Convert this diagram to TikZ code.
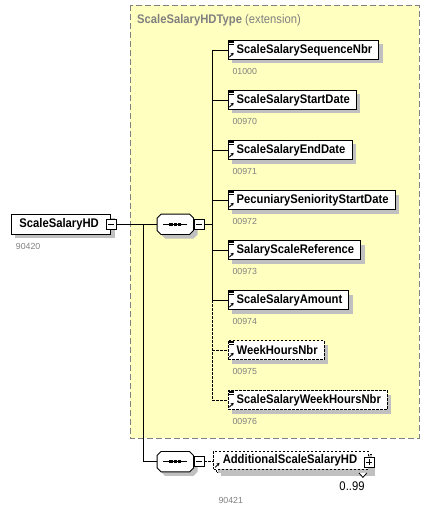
\documentclass[tikz,border=0pt]{standalone}
\usepackage{fontspec}
\setmainfont{Liberation Sans}
\newfontfamily\diafont{Liberation Sans}[FakeStretch=0.9]
\usetikzlibrary{shadows,arrows.meta}
\definecolor{ybg}{RGB}{255,255,192}
\definecolor{ybd}{RGB}{128,128,128}
\definecolor{numc}{RGB}{128,128,128}
\definecolor{shd}{RGB}{192,192,192}
\newcommand\lblfont{\diafont\fontsize{12.5}{14}\selectfont\bfseries}
\newcommand\numfont{\fontsize{8.8}{10}\selectfont}
\newcommand\octpath[3]{([xshift=#2+4pt,yshift=#3]#1.north west) -- ([xshift=#2-4pt,yshift=#3]#1.north east) -- ([xshift=#2,yshift=#3-4pt]#1.north east) -- ([xshift=#2,yshift=#3+4pt]#1.south east) -- ([xshift=#2-4pt,yshift=#3]#1.south east) -- ([xshift=#2+4pt,yshift=#3]#1.south west) -- ([xshift=#2,yshift=#3+4pt]#1.south west) -- ([xshift=#2,yshift=#3-4pt]#1.north west) -- cycle}
\newcommand\seqdraw[1]{%
  \fill[shd] \octpath{#1}{4pt}{-4pt};
  \draw[fill=white, line width=0.9pt] \octpath{#1}{0pt}{0pt};
  \draw[line width=0.9pt] ([xshift=-12pt]#1.center) -- ([xshift=12pt]#1.center);
  \fill ([xshift=-4.4pt]#1.center) +(-1.6,-1.5) rectangle +(1.6,1.5);
  \fill (#1.center) +(-1.6,-1.5) rectangle +(1.6,1.5);
  \fill ([xshift=4.4pt]#1.center) +(-1.6,-1.5) rectangle +(1.6,1.5);
}
\tikzset{
  sh/.style={general shadow={fill=shd,shadow xshift=4pt,shadow yshift=-4pt}},
  elem/.style={draw, fill=white, sh, minimum height=19pt, inner xsep=0pt, inner ysep=0pt, anchor=west, font=\lblfont, line width=0.9pt},
  optelem/.style={elem, dash pattern=on 2.5pt off 1.5pt},
  num/.style={anchor=west, text=numc, font=\numfont, inner sep=0pt},
  conn/.style={line width=0.9pt},
  optconn/.style={conn, dash pattern=on 2.5pt off 1.5pt},
  ybox/.style={fill=ybg, draw=ybd, line width=0.9pt, dash pattern=on 6pt off 3pt},
  seqbox/.style={rectangle, draw=none, minimum width=36pt, minimum height=20pt, inner sep=0pt},
  minusbox/.style={draw, fill=white, minimum size=10pt, inner sep=0pt, line width=0.8pt,
    path picture={\draw[line width=0.8pt] ([xshift=2pt]path picture bounding box.west) -- ([xshift=-2pt]path picture bounding box.east);}},
  plusbox/.style={minusbox, path picture={\draw[line width=0.8pt] ([xshift=2pt]path picture bounding box.west) -- ([xshift=-2pt]path picture bounding box.east);
      \draw[line width=0.8pt] ([yshift=2pt]path picture bounding box.south) -- ([yshift=-2pt]path picture bounding box.north);}},
  refarrow/.style={line width=0.9pt, -{Stealth[length=3pt,width=3.4pt]}},
}
\begin{document}
\begin{tikzpicture}[x=1pt,y=-1pt]
\useasboundingbox (0,0) rectangle (433,513);
% extension container
\draw[ybox] (130,5.3) rectangle (419,438);
\node[anchor=west, text=ybd, font=\diafont\fontsize{12.5}{14}\selectfont, inner sep=0pt] (ttl) at (137,20) {\textbf{ScaleSalaryHDType} (extension)};
% root element
\node[elem, minimum height=20pt] (r) at (10.7,224.3) {\hspace*{8.3pt}ScaleSalaryHD\hspace*{11.7pt}};
\node[minusbox] (rm) at (r.east) {};
\node[num] (rn) at (15.7,246.7) {90420};
% sequence 1
\node[seqbox] (seq1) at (175.3,224.3) {};
\seqdraw{seq1}
\node[minusbox, anchor=west] (sm1) at (seq1.east) {};
% sequence 2
\node[seqbox] (seq2) at (175.3,461.7) {};
\seqdraw{seq2}
\node[minusbox, anchor=west] (sm2) at (seq2.east) {};
\coordinate (j) at (143.3,224.3);
\draw[conn] (rm.east) -- (seq1.west);
\draw[conn] (j) |- (seq2.west);
\coordinate (bj) at (212.3,224.3);
\draw[conn] (sm1.east) -- (bj);
% child elements
\foreach \i/\cy/\nm/\nb/\st/\cs in {
  1/50/ScaleSalarySequenceNbr/01000/elem/conn,
  2/100/ScaleSalaryStartDate/00970/elem/conn,
  3/150/ScaleSalaryEndDate/00971/elem/conn,
  4/200/PecuniarySeniorityStartDate/00972/elem/conn,
  5/250/SalaryScaleReference/00973/elem/conn,
  6/300/ScaleSalaryAmount/00974/elem/conn,
  7/350/WeekHoursNbr/00975/optelem/optconn,
  8/400/ScaleSalaryWeekHoursNbr/00976/optelem/optconn}{
  \node[\st] (e\i) at (227.7,\cy) {\hspace*{8.5pt}\nm\hspace*{6.5pt}};
  \node[num] (n\i) at (232.3,\cy+21.7) {\nb};
  \coordinate (b\i) at (212.3,\cy);
  \draw[\cs] (b\i) -- (e\i.west);
  \draw[line width=0.8pt] ([shift={(1.2pt,-1.0pt)}]e\i.north west) -- ++(5,0)
     ([shift={(1.2pt,-2.6pt)}]e\i.north west) -- ++(5,0)
     ([shift={(1.2pt,-4.2pt)}]e\i.north west) -- ++(5,0);
  \draw[refarrow] ([shift={(1.6pt,2.8pt)}]e\i.south west) -- ++(4.4,-4.4);
}
\draw[conn] (b1) -- (b6);
\draw[optconn] (b6) -- (b8);
% additional element (repeated)
\node[optelem, anchor=north west, minimum height=18.3pt] (addb) at (216.3,453.7) {\phantom{\hspace*{9pt}AdditionalScaleSalaryHD\hspace*{11.3pt}}};
\node[optelem, general shadow={}, anchor=north west, minimum height=18.3pt] (add) at (213.3,450.7) {\hspace*{9pt}AdditionalScaleSalaryHD\hspace*{11.3pt}};
\draw[refarrow] ([shift={(1.8pt,2.6pt)}]add.south west) -- ++(4.4,-4.4);
\node[plusbox] (ap) at ([yshift=-1.8pt]add.east) {};
\draw[fill=white, line width=0.8pt] ([xshift=-13pt]addb.south east) -- ++(4,4.5) -- ++(4,-4.5);
\draw[optconn] (sm2.east) -- (sm2.east -| add.west);
\node[font=\diafont\fontsize{12.5}{14}\selectfont, inner sep=0pt] (card) at (352,485.7) {0..99};
\node[num] (an) at (218.3,500.7) {90421};
\end{tikzpicture}
\end{document}
